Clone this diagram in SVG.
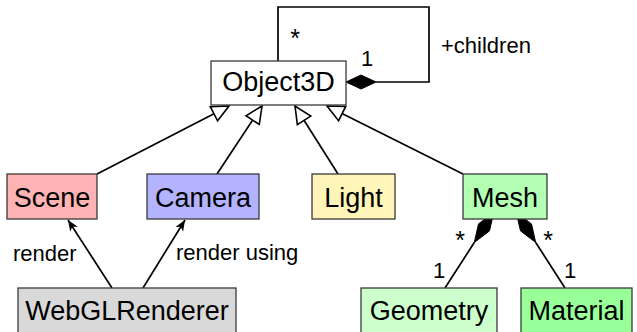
<svg xmlns="http://www.w3.org/2000/svg" width="637" height="332" viewBox="0 0 637 332">
<style>
.box{stroke:#3a3a3a;stroke-width:1.3}
.nl{font-family:"Liberation Sans",Arial,sans-serif;font-size:27px;fill:#000;text-anchor:middle}
.sl{font-family:"Liberation Sans",Arial,sans-serif;font-size:22px;fill:#000}
.ast{font-family:"Liberation Sans",Arial,sans-serif;font-size:25px;fill:#000;text-anchor:middle}
.ln{fill:none;stroke:#000;stroke-width:1.7}
.dia{fill:#000;stroke:#000;stroke-width:1}
</style>
<defs>
<marker id="inh" markerUnits="userSpaceOnUse" markerWidth="18" markerHeight="18" viewBox="0 0 17 16" refX="16.5" refY="8" orient="auto" overflow="visible">
<path d="M16.5,8 L0.5,0.5 L0.5,15.5 Z" fill="#fff" stroke="#000" stroke-width="1.5"/>
</marker>
<marker id="arr" markerUnits="userSpaceOnUse" markerWidth="12" markerHeight="10" viewBox="0 0 12 10" refX="11" refY="5" orient="auto" overflow="visible">
<path d="M11,5 L0,0.5 L3,5 L0,9.5 Z" fill="#000"/>
</marker>
</defs>
<g id="connectors">
<path class="ln" d="M278,61 V7 H429 V82 H376"/>
<polygon class="dia" points="346,82 361,75 376,82 361,89"/>
<line class="ln" x1="97" y1="174" x2="229" y2="106" marker-end="url(#inh)"/>
<line class="ln" x1="217" y1="174" x2="262" y2="106" marker-end="url(#inh)"/>
<line class="ln" x1="338" y1="174" x2="295" y2="106" marker-end="url(#inh)"/>
<line class="ln" x1="463" y1="174" x2="327" y2="106" marker-end="url(#inh)"/>
<line class="ln" x1="112" y1="288" x2="68" y2="220" marker-end="url(#arr)"/>
<line class="ln" x1="143" y1="288" x2="185" y2="220" marker-end="url(#arr)"/>
<line class="ln" x1="445" y1="288" x2="474.3" y2="242.5"/>
<polygon class="dia" points="474.3,242.5 489.5,230.9 493.8,212.2 478.5,223.9"/>
<line class="ln" x1="565" y1="288" x2="535.7" y2="242.5"/>
<polygon class="dia" points="535.7,242.5 520.5,230.9 516.2,212.2 531.5,223.9"/>
<text class="ast" x="295" y="47">*</text>
<text class="sl" x="367" y="66" text-anchor="middle">1</text>
<text class="sl" x="441" y="53">+children</text>
<text class="sl" x="13" y="261">render</text>
<text class="sl" x="176" y="260">render using</text>
<text class="ast" x="460" y="249">*</text>
<text class="ast" x="548" y="249">*</text>
<text class="sl" x="439" y="278" text-anchor="middle">1</text>
<text class="sl" x="570" y="278" text-anchor="middle">1</text>
</g>
<g id="Object3D"><rect class="box" x="211" y="61" width="135" height="44" fill="#fff"/><text class="nl" x="278.5" y="91">Object3D</text></g>
<g id="Scene"><rect class="box" x="7" y="174" width="90" height="45" fill="#ffb3b3"/><text class="nl" x="52" y="207">Scene</text></g>
<g id="Camera"><rect class="box" x="147" y="174" width="112" height="45" fill="#b3b3ff"/><text class="nl" x="203" y="207">Camera</text></g>
<g id="Light"><rect class="box" x="312" y="174" width="83" height="45" fill="#fff5b8"/><text class="nl" x="353.5" y="207">Light</text></g>
<g id="Mesh"><rect class="box" x="463" y="174" width="84" height="45" fill="#b3ffb3"/><text class="nl" x="505" y="207">Mesh</text></g>
<g id="WebGLRenderer"><rect class="box" x="18" y="288" width="218" height="46" fill="#d9d9d9"/><text class="nl" x="127" y="320">WebGLRenderer</text></g>
<g id="Geometry"><rect class="box" x="361" y="288" width="136" height="46" fill="#ccffcc"/><text class="nl" x="429" y="320">Geometry</text></g>
<g id="Material"><rect class="box" x="521" y="288" width="111" height="46" fill="#99ff99"/><text class="nl" x="576.5" y="320">Material</text></g>
</svg>
